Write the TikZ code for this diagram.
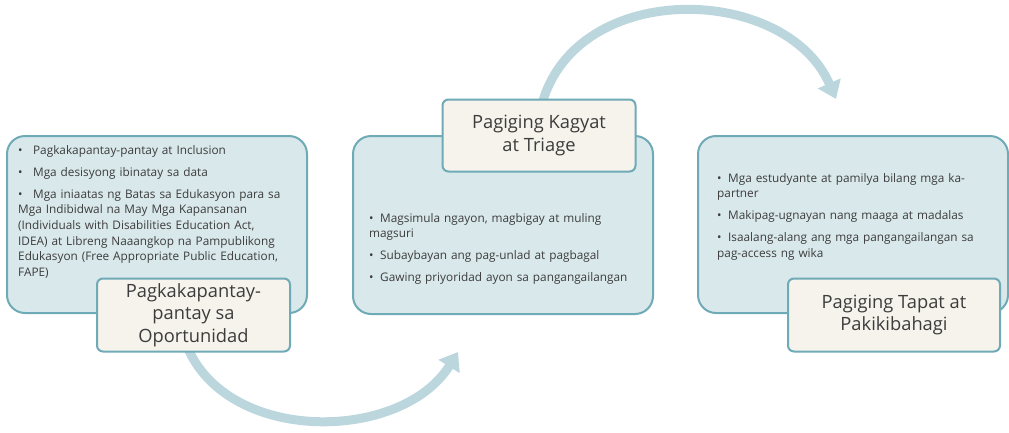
\documentclass[tikz,border=0pt]{standalone}
\usepackage{fontspec}
\setmainfont{Open Sans}
\usetikzlibrary{arrows.meta}
\definecolor{boxfill}{HTML}{D9E8EB}
\definecolor{boxline}{HTML}{6FAAB7}
\definecolor{labfill}{HTML}{F5F3EB}
\definecolor{arccol}{HTML}{BBD7DD}
\definecolor{txt}{HTML}{3C3C3C}
\newcommand{\bitem}[1]{\par\hangindent=11pt\hangafter=1\noindent\makebox[11pt][l]{\textbullet}#1}
\tikzset{
  bluebox/.style={draw=boxline, fill=boxfill, line width=2pt, rounded corners=18pt},
  labelbox/.style={draw=boxline, fill=labfill, line width=2pt, rounded corners=6pt,
    align=center, text=txt, font=\fontsize{18.3}{22.5}\selectfont, inner sep=0pt},
  listtext/.style={anchor=north west, inner sep=0pt, text=txt, align=left,
    font=\fontsize{11.8}{15.6}\selectfont},
  flowarc/.style={draw=arccol, line width=9pt, -{Triangle[width=24pt,length=17pt]}}
}
\begin{document}
\begin{tikzpicture}[x=1pt,y=-1pt]
\useasboundingbox (0,0) rectangle (1009,432);
% arcs
\coordinate (a1s) at (183,335);
\coordinate (a1e) at (458,352);
\coordinate (a2s) at (540,112);
\coordinate (a2e) at (836,99);
\draw[flowarc] (a1s) .. controls (215,445) and (400,445) .. (a1e);
\draw[flowarc] (a2s) .. controls (568,-22) and (785,-18) .. (a2e);
% blue boxes
\draw[bluebox] (7,136) rectangle (307,313);
\draw[bluebox] (353,136) rectangle (653,314);
\draw[bluebox] (698,136) rectangle (1008,313);
% lists
\node[listtext, text width=290pt] (l1) at (18,132) {\parskip=6.4pt
\bitem{\strut\ Pagkakapantay-pantay at Inclusion}
\bitem{\ Mga desisyong ibinatay sa data}
\bitem{\ Mga iniaatas ng Batas sa Edukasyon para sa\\ Mga Indibidwal na May Mga Kapansanan\\ (Individuals with Disabilities Education Act,\\ IDEA) at Libreng Naaangkop na Pampublikong\\ Edukasyon (Free Appropriate Public Education,\\ FAPE)}};
\node[listtext, text width=290pt] (l2) at (369,200) {\parskip=6.4pt
\bitem{\strut Magsimula ngayon, magbigay at muling\\ magsuri}
\bitem{Subaybayan ang pag-unlad at pagbagal}
\bitem{Gawing priyoridad ayon sa pangangailangan}};
\node[listtext, text width=290pt] (l3) at (717,160) {\parskip=6.4pt
\bitem{\strut Mga estudyante at pamilya bilang mga ka-\\ partner}
\bitem{Makipag-ugnayan nang maaga at madalas}
\bitem{Isaalang-alang ang mga pangangailangan sa\\ pag-access ng wika}};
% labels
\node[labelbox, minimum width=193pt, minimum height=73pt] (t1) at (193.5,315) {Pagkakapantay-\\pantay sa\\Oportunidad};
\node[labelbox, minimum width=193pt, minimum height=72pt] (t2) at (539,135.5) {Pagiging Kagyat\\at Triage};
\node[labelbox, minimum width=212pt, minimum height=73pt] (t3) at (894,315) {Pagiging Tapat at\\Pakikibahagi};
\end{tikzpicture}
\end{document}
